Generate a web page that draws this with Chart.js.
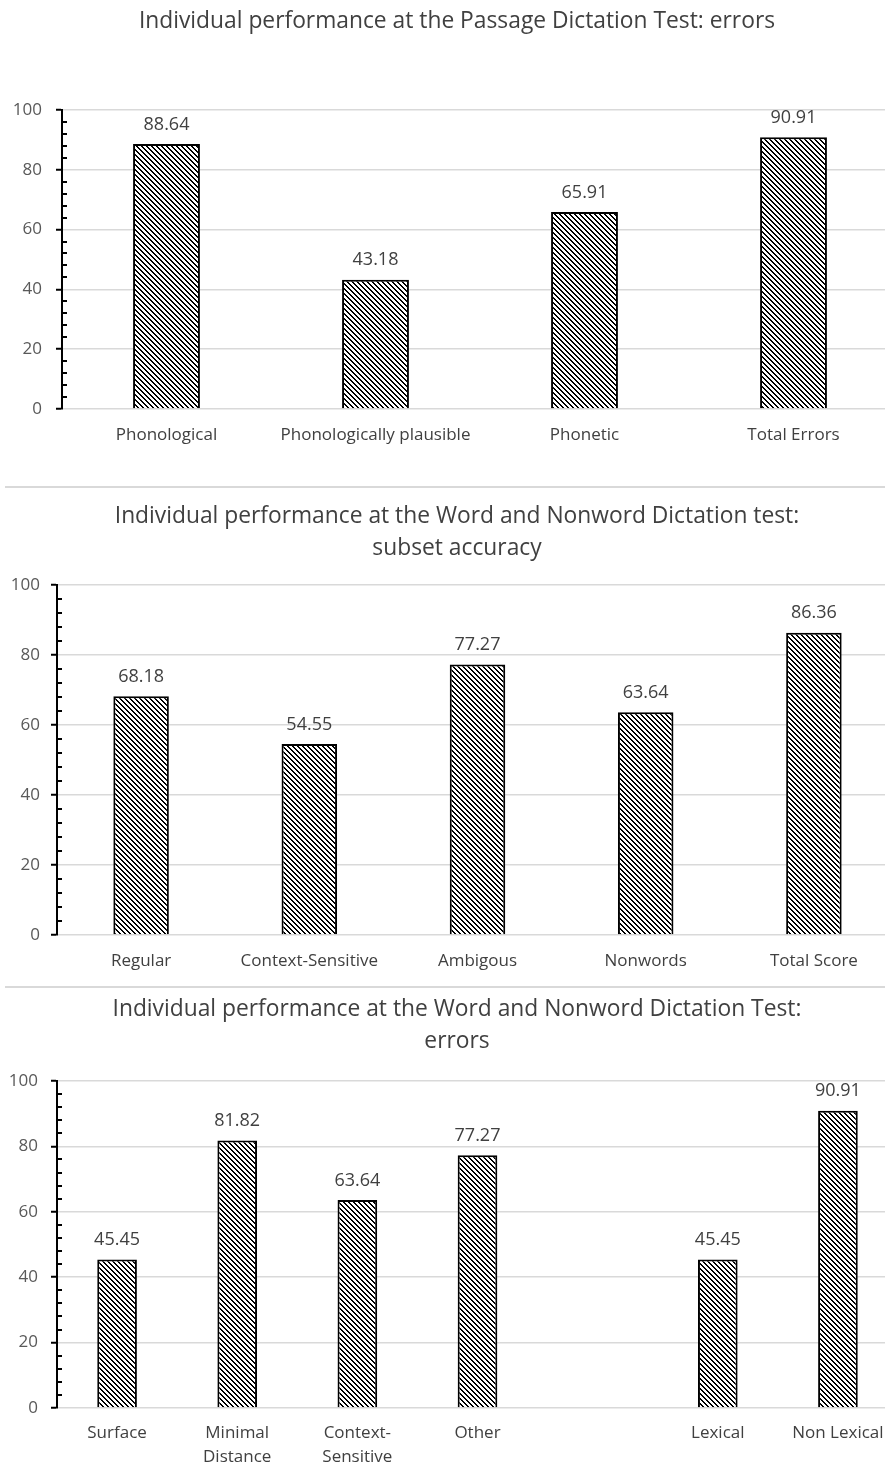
<!DOCTYPE html>
<html>
<head>
<meta charset="utf-8">
<script src="https://cdn.jsdelivr.net/npm/chart.js@4.4.1/dist/chart.umd.min.js"></script>
<style>
body{margin:0;background:#fff;overflow:hidden;width:885px;height:1468px;position:relative}
.panel{position:absolute;left:0;width:898px}
.line{position:absolute;left:5px;width:880px;height:2px;background:#d9d9d9}
</style>
</head>
<body>
<div class="panel" style="top:0;height:487px"><canvas id="passageChart"></canvas></div>
<div class="line" style="top:486px"></div>
<div class="panel" style="top:489px;height:498px"><canvas id="subsetChart"></canvas></div>
<div class="line" style="top:986px"></div>
<div class="panel" style="top:989px;height:493px"><canvas id="errorChart"></canvas></div>
<script>
// data
var passageLabels = ["Phonological", "Phonologically plausible", "Phonetic", "Total Errors"];
var passageValues = [88.64, 43.18, 65.91, 90.91];

var subsetLabels = ["Regular", "Context-Sensitive", "Ambigous", "Nonwords", "Total Score"];
var subsetValues = [68.18, 54.55, 77.27, 63.64, 86.36];

var errorLabels = ["Surface", ["Minimal", "Distance"], ["Context-", "Sensitive"], "Other", "", "Lexical", "Non Lexical"];
var errorValues = [45.45, 81.82, 63.64, 77.27, null, 45.45, 90.91];

var yMax = 100;
var yStep = 20;
var minorStep = 4;

Chart.defaults.font.family = "'Open Sans', sans-serif";
Chart.defaults.color = "#595959";

// diagonal hatch like the excel pattern fill
function hatch(){
  var c = document.createElement("canvas");
  c.width = 5; c.height = 5;
  var g = c.getContext("2d");
  g.fillStyle = "#fff";
  g.fillRect(0, 0, 5, 5);
  g.fillStyle = "#000";
  for (var y = 0; y < 5; y++) {
    for (var x = 0; x < 5; x++) {
      if ((((x - y) % 5) + 5) % 5 < 2) g.fillRect(x, y, 1, 1);
    }
  }
  return g.createPattern(c, "repeat");
}

// minor ticks inside the y axis + value labels over bars
var barExtras = {
  id: "barExtras",
  afterLayout: function(chart){
    // the page is cropped on the right, so the title sits a bit right of canvas centre
    chart.titleBlock.left = 16;
  },
  afterDatasetsDraw: function(chart){
    var ctx = chart.ctx;
    var ys = chart.scales.y;
    var left = chart.chartArea.left;
    ctx.save();
    ctx.strokeStyle = "#000";
    ctx.lineWidth = 2;
    for (var v = 0; v <= ys.max; v += minorStep) {
      if (v % yStep === 0) continue;
      var py = Math.round(ys.getPixelForValue(v));
      ctx.beginPath();
      ctx.moveTo(left, py);
      ctx.lineTo(left + 5, py);
      ctx.stroke();
    }
    var ds = chart.data.datasets[0];
    ctx.fillStyle = "#404040";
    ctx.font = "18px 'Open Sans'";
    ctx.textAlign = "center";
    ctx.textBaseline = "middle";
    chart.getDatasetMeta(0).data.forEach(function(bar, i){
      if (ds.data[i] == null) return;
      ctx.fillText(ds.data[i].toFixed(2), bar.x, bar.y - 19.5);
    });
    ctx.restore();
  }
};

function makeChart(id, labels, values, title, cfg){
  return new Chart(id, {
    type: "bar",
    data: {
      labels: labels,
      datasets: [{
        data: values,
        backgroundColor: hatch(),
        borderColor: "#000",
        borderWidth: 2,
        barPercentage: cfg.bar,
        categoryPercentage: 1
      }]
    },
    options: {
      responsive: true,
      maintainAspectRatio: false,
      animation: false,
      layout: {padding: {left: 0, right: 0, top: 0, bottom: cfg.bottom}},
      plugins: {
        legend: {display: false},
        tooltip: {enabled: false},
        title: {
          display: true,
          text: title,
          color: "#404040",
          font: {size: 22.8, weight: "normal", lineHeight: cfg.titleLine},
          padding: {top: cfg.titleTop, bottom: cfg.titleBottom}
        }
      },
      scales: {
        x: {
          grid: {display: false, drawTicks: false},
          border: {display: false},
          ticks: {padding: cfg.xPad, color: "#404040", font: {size: 17, lineHeight: cfg.xLine}, maxRotation: 0, autoSkip: false}
        },
        y: {
          min: 0,
          max: yMax,
          afterFit: function(s){ s.width = cfg.axisX; },
          ticks: {stepSize: yStep, padding: cfg.yPad, color: "#595959", font: {size: 17}},
          grid: {color: "#d9d9d9", lineWidth: 1.5, tickColor: "#000", tickLength: 6, tickWidth: 2},
          border: {color: "#000", width: 2}
        }
      }
    },
    plugins: [barExtras]
  });
}

makeChart("passageChart", passageLabels, passageValues,
  "Individual performance at the Passage Dictation Test: errors",
  {bar: 0.32, bottom: 26.6, titleLine: 1.2, titleTop: 8, titleBottom: 74.6, xPad: 15.5, xLine: 1.2, axisX: 62, yPad: 14});

makeChart("subsetChart", subsetLabels, subsetValues,
  ["Individual performance at the Word and Nonword Dictation test:", "subset accuracy"],
  {bar: 0.33, bottom: 0.6, titleLine: "32px", titleTop: 12, titleBottom: 20, xPad: 15.5, xLine: 1.2, axisX: 57, yPad: 11});

makeChart("errorChart", errorLabels, errorValues,
  ["Individual performance at the Word and Nonword Dictation Test:", "errors"],
  {bar: 0.33, bottom: 0, titleLine: "32px", titleTop: 5, titleBottom: 23, xPad: 13, xLine: "24px", axisX: 57, yPad: 13});
</script>
</body>
</html>
